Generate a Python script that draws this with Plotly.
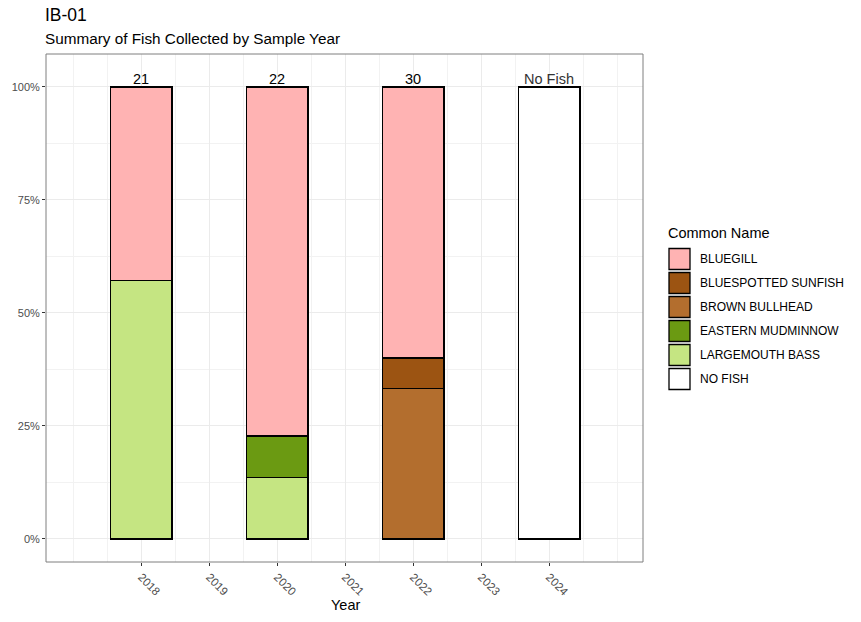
import plotly.graph_objects as go

years = [2018, 2020, 2022, 2024]
species = ["BLUEGILL", "BLUESPOTTED SUNFISH", "BROWN BULLHEAD",
           "EASTERN MUDMINNOW", "LARGEMOUTH BASS", "NO FISH"]
colors = ["#FFB3B3", "#9C5412", "#B36E2E", "#6B9A12", "#C5E582", "#FFFFFF"]
counts = {
    "BLUEGILL":            [9, 17, 18, 0],
    "BLUESPOTTED SUNFISH": [0, 0, 2, 0],
    "BROWN BULLHEAD":      [0, 0, 10, 0],
    "EASTERN MUDMINNOW":   [0, 2, 0, 0],
    "LARGEMOUTH BASS":     [12, 3, 0, 0],
    "NO FISH":             [0, 0, 0, 1],
}
labels = ["21", "22", "30", "No Fish"]
tick_years = [2018, 2019, 2020, 2021, 2022, 2023, 2024]

totals = [sum(counts[s][i] for s in species) for i in range(len(years))]

fig = go.Figure()
# ggplot stacks first level on top -> add in reverse
for s, c in reversed(list(zip(species, colors))):
    xs = [years[i] for i in range(len(years)) if counts[s][i] > 0]
    vals = [counts[s][i] / totals[i] for i in range(len(years)) if counts[s][i] > 0]
    fig.add_trace(go.Bar(
        x=xs, y=vals, name=s, width=0.9,
        marker=dict(color=c, line=dict(color="black", width=1.5)),
        showlegend=False, hoverinfo="x+y+name"))

for i, y in enumerate(years):
    fig.add_annotation(x=y, y=1.0, text=labels[i], showarrow=False,
                       yanchor="bottom", yshift=-2,
                       font=dict(size=14.5, color="black" if i < 3 else "#333333",
                                 family="Liberation Sans, Arial"))

L, R, T, B = 46, 643, 54, 562
W, H = 861, 622
pw, ph = R - L, B - T

def px(x):
    return (x - L) / pw

def py(y):
    return (B - y) / ph

# panel border
fig.add_shape(type="rect", xref="paper", yref="paper", x0=0, x1=1, y0=0, y1=1,
              line=dict(color="#7f7f7f", width=1), layer="above")

# custom legend
fig.add_annotation(xref="paper", yref="paper", x=px(666), y=py(233),
                   text="Common Name", showarrow=False, xanchor="left",
                   yanchor="middle", font=dict(size=14.5, color="black"))
for k, (s, c) in enumerate(zip(species, colors)):
    yc = 259 + 24 * k
    fig.add_shape(type="rect", xref="paper", yref="paper",
                  x0=px(669), x1=px(690), y0=py(yc - 10.5), y1=py(yc + 10.5),
                  fillcolor=c, line=dict(color="black", width=1.3))
    fig.add_annotation(xref="paper", yref="paper", x=px(698), y=py(yc),
                       text=s, showarrow=False, xanchor="left", yanchor="middle",
                       font=dict(size=12, color="black"))

# titles
fig.add_annotation(xref="paper", yref="paper", x=px(43), y=py(15), text="IB-01",
                   showarrow=False, xanchor="left", yanchor="middle",
                   font=dict(size=17.5, color="black"))
fig.add_annotation(xref="paper", yref="paper", x=px(43), y=py(38),
                   text="Summary of Fish Collected by Sample Year",
                   showarrow=False, xanchor="left", yanchor="middle",
                   font=dict(size=15.3, color="black"))
# x-axis title
fig.add_annotation(xref="paper", yref="paper", x=px(345), y=py(605),
                   text="Year", showarrow=False, xanchor="center", yanchor="middle",
                   font=dict(size=14.5, color="black"))

fig.update_layout(
    width=W, height=H, barmode="stack",
    margin=dict(l=L, r=W - R, t=T, b=H - B),
    plot_bgcolor="white", paper_bgcolor="white",
    font=dict(family="Liberation Sans, Arial", color="black"),
    xaxis=dict(range=[2016.6, 2025.38], tickvals=tick_years,
               ticktext=[str(t) for t in tick_years], tickangle=45,
               ticks="outside", ticklen=3, tickcolor="#333333",
               tickfont=dict(size=11.5, color="#4d4d4d"),
               showgrid=True, gridcolor="#ebebeb", gridwidth=1,
               minor=dict(dtick=0.5, tick0=2017, showgrid=True,
                          gridcolor="#f2f2f2", gridwidth=0.6),
               zeroline=False, showline=False, automargin=False),
    yaxis=dict(range=[-0.051, 1.073], tickvals=[0, 0.25, 0.5, 0.75, 1.0],
               ticktext=["0%", "25%", "50%", "75%", "100%"],
               ticks="outside", ticklen=3, tickcolor="#333333",
               tickfont=dict(size=11, color="#4d4d4d"),
               showgrid=True, gridcolor="#ebebeb", gridwidth=1,
               minor=dict(dtick=0.125, tick0=0, showgrid=True,
                          gridcolor="#f2f2f2", gridwidth=0.6),
               zeroline=False, showline=False, automargin=False),
)

fig.write_html("out.html")
